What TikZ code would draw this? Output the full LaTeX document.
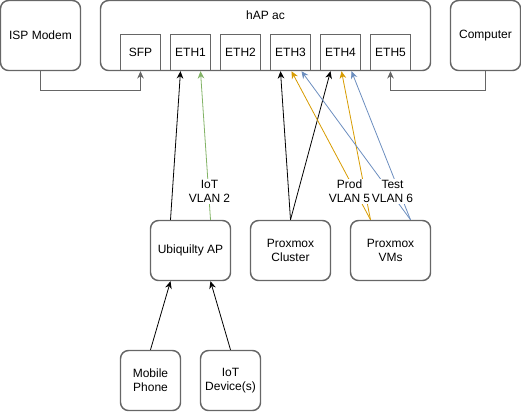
\documentclass[tikz,border=0pt]{standalone}
\usepackage{fontspec}
\setmainfont{Liberation Sans}
\usetikzlibrary{arrows.meta}

\definecolor{boxgray}{RGB}{102,102,102}
\definecolor{iotgreen}{RGB}{130,179,102}
\definecolor{prodorange}{RGB}{215,155,0}
\definecolor{testblue}{RGB}{108,142,191}

\tikzset{
  box/.style={draw=boxgray, line width=1.1pt, rounded corners=6pt, align=center, font=\fontsize{9}{10.5}\selectfont, inner sep=0pt},
  port/.style={draw=boxgray, line width=1.1pt, minimum width=30pt, minimum height=27pt, font=\fontsize{9}{10.5}\selectfont, inner sep=0pt},
  link/.style={-{Stealth[length=5.5pt,width=5pt]}, line width=0.6pt},
  vlan/.style={fill=white, align=center, inner sep=0.75pt, font=\fontsize{9}{10.5}\selectfont}
}

\begin{document}
\begin{tikzpicture}[x=0.75pt,y=0.75pt,yscale=-1,xscale=1]
\useasboundingbox (-0.5,-0.5) rectangle (520.5,410.5);

%Router and ports
\node[box, minimum width=247.5pt, minimum height=52.5pt] (hap) at (265,35) {};
\node[font=\fontsize{9}{10.5}\selectfont] (haplbl) at (265,15) {hAP ac};
\node[port] (sfp) at (140,52) {SFP};
\node[port] (eth1) at (190,52) {ETH1};
\node[port] (eth2) at (240,52) {ETH2};
\node[port] (eth3) at (290,52) {ETH3};
\node[port] (eth4) at (340,52) {ETH4};
\node[port] (eth5) at (390,52) {ETH5};

%Outside boxes
\node[box, minimum width=60pt, minimum height=52.5pt] (modem) at (40,35) {ISP Modem};
\node[box, minimum width=52.5pt, minimum height=52.5pt] (pc) at (485,35) {Computer};
\node[box, minimum width=60pt, minimum height=45pt] (ap) at (190,250) {Ubiquilty AP};
\node[box, minimum width=60pt, minimum height=45pt] (cluster) at (290,250) {Proxmox\\Cluster};
\node[box, minimum width=60pt, minimum height=45pt] (vms) at (390,250) {Proxmox\\VMs};
\node[box, minimum width=45pt, minimum height=45pt] (phone) at (150,380) {Mobile\\Phone};
\node[box, minimum width=45pt, minimum height=45pt] (iot) at (230,380) {IoT\\Device(s)};

%Uplinks
\draw[link, boxgray] (modem.south) |- (90,90) -| (sfp.south);
\draw[link, boxgray] (pc.south) |- (440,90) -| (eth5.south);

%Wired
\draw[link] ([xshift=-15pt]ap.north) -- ([xshift=-7.5pt]eth1.south);
\draw[link] (phone.north) -- ([xshift=-15pt]ap.south);
\draw[link] (iot.north) -- ([xshift=15pt]ap.south);
\draw[link] (cluster.north) -- ([xshift=-7.5pt]eth3.south);
\draw[link] (cluster.north) -- ([xshift=-7.5pt]eth4.south);

%VLANs
\draw[link, iotgreen] ([xshift=15pt]ap.north) -- ([xshift=7.5pt]eth1.south);
\draw[link, prodorange] ([xshift=-15pt]vms.north) -- ([xshift=0.75pt]eth3.south);
\draw[link, prodorange] ([xshift=-15pt]vms.north) -- ([xshift=0.75pt]eth4.south);
\draw[link, testblue] ([xshift=15pt]vms.north) -- ([xshift=8.25pt]eth3.south);
\draw[link, testblue] ([xshift=15pt]vms.north) -- ([xshift=8.25pt]eth4.south);

\node[vlan] (iotlbl) at (209,191) {IoT\\VLAN 2};
\node[vlan] (prodlbl) at (349,191) {Prod\\VLAN 5};
\node[vlan] (testlbl) at (392,191) {Test\\VLAN 6};

\end{tikzpicture}
\end{document}
